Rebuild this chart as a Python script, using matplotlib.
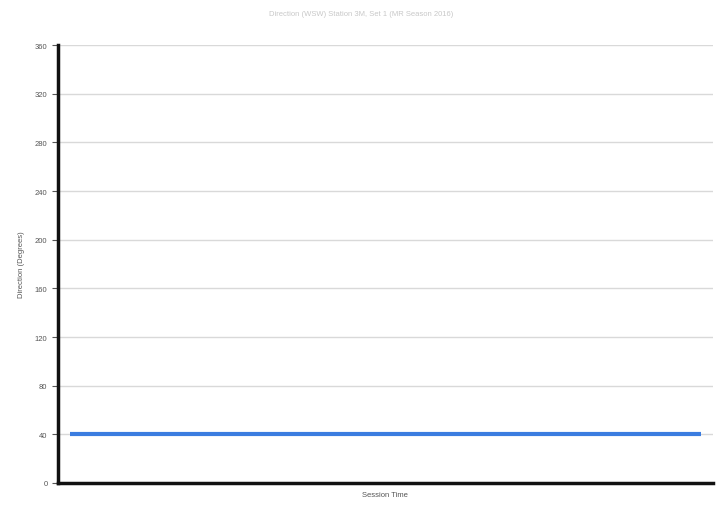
import matplotlib
matplotlib.use("Agg")
import matplotlib.pyplot as plt

plt.rcParams['font.family'] = ['Liberation Sans', 'DejaVu Sans']

# session samples (x has no labels in the original)
session_time = [0, 1, 2, 3, 4, 5, 6, 7, 8, 9, 10]
direction = [40, 40, 40, 40, 40, 40, 40, 40, 40, 40, 40]
y_ticks = [0, 40, 80, 120, 160, 200, 240, 280, 320, 360]

title = "Direction (WSW) Station 3M, Set 1 (MR Season 2016)"

fig = plt.figure(figsize=(7.23, 5.06), dpi=100)
ax = fig.add_axes([0.080, 0.0435, 0.906, 0.8655])

ax.plot(session_time, direction, color="#3b7de0", linewidth=3, solid_capstyle="butt")

ax.set_ylim(0, 360)
ax.set_yticks(y_ticks)
ax.set_xlim(-0.19, 10.19)
ax.set_xticks([])
ax.yaxis.grid(True, color="#d9d9d9", linewidth=1)
ax.set_axisbelow(True)

for s in ["top", "right"]:
    ax.spines[s].set_visible(False)
for s in ["left", "bottom"]:
    ax.spines[s].set_linewidth(2.5)
    ax.spines[s].set_color("#111111")

ax.tick_params(axis="y", labelsize=5.5, colors="#555555", length=4, width=0.8)
ax.set_ylabel("Direction (Degrees)", fontsize=5.5, color="#555555", labelpad=7)
ax.set_xlabel("Session Time", fontsize=5.5, color="#555555", labelpad=6)
fig.text(0.5, 0.972, title, ha="center", va="center", fontsize=5.5, color="#c8c8c8")

fig.savefig("out.png", dpi=100)
